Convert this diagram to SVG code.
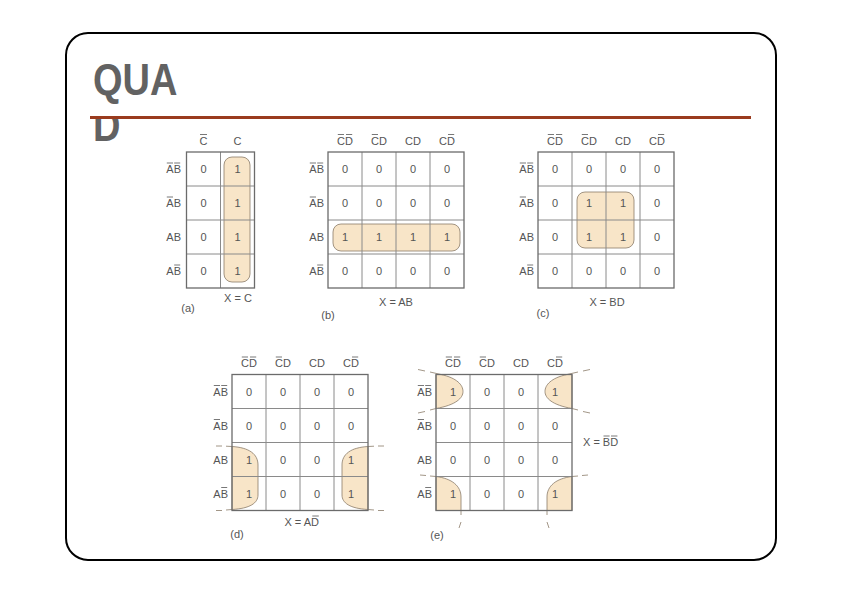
<svg xmlns="http://www.w3.org/2000/svg" width="842" height="595" viewBox="0 0 842 595">
<style>
.t{font-family:"Liberation Sans",Arial,sans-serif;font-size:11px;fill:#555}
.c{text-anchor:middle}
.e{text-anchor:end}
.ob{stroke:#555;stroke-width:0.8}
.g{fill:none;stroke:#8a8a8a;stroke-width:1}
.o{fill:none;stroke:#6b6b6b;stroke-width:1.3}
.hl{fill:#f8e5c8;stroke:#8a7b68;stroke-width:0.8}
.cv{fill:none;stroke:#8a7b68;stroke-width:0.8}
.ttl{font-family:"Liberation Sans",Arial,sans-serif;font-weight:bold;font-size:38px;fill:#626262}
</style>
<defs>
<clipPath id="dclip"><rect x="80" y="119" width="100" height="40"/></clipPath>
</defs>
<rect x="0" y="0" width="842" height="595" fill="#fff"/>
<rect x="66" y="33" width="710" height="527" rx="22" fill="#fff" stroke="#000" stroke-width="2"/>
<g id="title">
<text class="ttl" transform="translate(93,95) scale(1,1.18)">QUA</text>
<g clip-path="url(#dclip)"><text class="ttl" transform="translate(93,141) scale(1,1.18)">D</text></g>
<line x1="90" y1="117.5" x2="751" y2="117.5" stroke="#9a3b1e" stroke-width="3"/>
</g>

<!-- Map (a) -->
<g id="map-a">
<rect class="hl" x="224" y="157" width="26" height="125" rx="8"/>
<path class="g" d="M220.5,152V288M186.5,186H254.5M186.5,220H254.5M186.5,254H254.5"/>
<rect class="o" x="186.5" y="152" width="68" height="136"/>
<text class="t c" x="203.5" y="144.5">C</text><line class="ob" x1="200" y1="134.5" x2="207" y2="134.5"/>
<text class="t c" x="237.5" y="144.5">C</text>
<text class="t e" x="181" y="173">AB</text><line class="ob" x1="166.8" y1="163" x2="173" y2="163"/><line class="ob" x1="174.2" y1="163" x2="180.2" y2="163"/>
<text class="t e" x="181" y="207">AB</text><line class="ob" x1="166.8" y1="197" x2="173" y2="197"/>
<text class="t e" x="181" y="241">AB</text>
<text class="t e" x="181" y="275">AB</text><line class="ob" x1="174.2" y1="265" x2="180.2" y2="265"/>
<text class="t c" x="203.5" y="173">0</text><text class="t c" x="237.5" y="173">1</text>
<text class="t c" x="203.5" y="207">0</text><text class="t c" x="237.5" y="207">1</text>
<text class="t c" x="203.5" y="241">0</text><text class="t c" x="237.5" y="241">1</text>
<text class="t c" x="203.5" y="275">0</text><text class="t c" x="237.5" y="275">1</text>
<text class="t c" x="238" y="302">X = C</text>
<text class="t c" x="188" y="312">(a)</text>
</g>

<!-- Map (b) -->
<g id="map-b">
<rect class="hl" x="333" y="224" width="127" height="27" rx="8"/>
<path class="g" d="M362,152V288M396,152V288M430,152V288M328,186H464M328,220H464M328,254H464"/>
<rect class="o" x="328" y="152" width="136" height="136"/>
<text class="t c" x="345" y="144.5">CD</text><line class="ob" x1="337.8" y1="134.5" x2="344" y2="134.5"/><line class="ob" x1="346" y1="134.5" x2="352.2" y2="134.5"/>
<text class="t c" x="379" y="144.5">CD</text><line class="ob" x1="371.8" y1="134.5" x2="378" y2="134.5"/>
<text class="t c" x="413" y="144.5">CD</text>
<text class="t c" x="447" y="144.5">CD</text><line class="ob" x1="448" y1="134.5" x2="454.2" y2="134.5"/>
<text class="t e" x="324" y="173">AB</text><line class="ob" x1="309.8" y1="163" x2="316" y2="163"/><line class="ob" x1="317.2" y1="163" x2="323.2" y2="163"/>
<text class="t e" x="324" y="207">AB</text><line class="ob" x1="309.8" y1="197" x2="316" y2="197"/>
<text class="t e" x="324" y="241">AB</text>
<text class="t e" x="324" y="275">AB</text><line class="ob" x1="317.2" y1="265" x2="323.2" y2="265"/>
<text class="t c" x="345" y="173">0</text><text class="t c" x="379" y="173">0</text><text class="t c" x="413" y="173">0</text><text class="t c" x="447" y="173">0</text>
<text class="t c" x="345" y="207">0</text><text class="t c" x="379" y="207">0</text><text class="t c" x="413" y="207">0</text><text class="t c" x="447" y="207">0</text>
<text class="t c" x="345" y="241">1</text><text class="t c" x="379" y="241">1</text><text class="t c" x="413" y="241">1</text><text class="t c" x="447" y="241">1</text>
<text class="t c" x="345" y="275">0</text><text class="t c" x="379" y="275">0</text><text class="t c" x="413" y="275">0</text><text class="t c" x="447" y="275">0</text>
<text class="t c" x="396" y="306">X = AB</text>
<text class="t c" x="328" y="319">(b)</text>
</g>

<!-- Map (c) -->
<g id="map-c">
<rect class="hl" x="577" y="192" width="57" height="56" rx="8"/>
<path class="g" d="M572,152V288M606,152V288M640,152V288M538,186H674M538,220H674M538,254H674"/>
<rect class="o" x="538" y="152" width="136" height="136"/>
<text class="t c" x="555" y="144.5">CD</text><line class="ob" x1="547.8" y1="134.5" x2="554" y2="134.5"/><line class="ob" x1="556" y1="134.5" x2="562.2" y2="134.5"/>
<text class="t c" x="589" y="144.5">CD</text><line class="ob" x1="581.8" y1="134.5" x2="588" y2="134.5"/>
<text class="t c" x="623" y="144.5">CD</text>
<text class="t c" x="657" y="144.5">CD</text><line class="ob" x1="658" y1="134.5" x2="664.2" y2="134.5"/>
<text class="t e" x="534" y="173">AB</text><line class="ob" x1="519.8" y1="163" x2="526" y2="163"/><line class="ob" x1="527.2" y1="163" x2="533.2" y2="163"/>
<text class="t e" x="534" y="207">AB</text><line class="ob" x1="519.8" y1="197" x2="526" y2="197"/>
<text class="t e" x="534" y="241">AB</text>
<text class="t e" x="534" y="275">AB</text><line class="ob" x1="527.2" y1="265" x2="533.2" y2="265"/>
<text class="t c" x="555" y="173">0</text><text class="t c" x="589" y="173">0</text><text class="t c" x="623" y="173">0</text><text class="t c" x="657" y="173">0</text>
<text class="t c" x="555" y="207">0</text><text class="t c" x="589" y="207">1</text><text class="t c" x="623" y="207">1</text><text class="t c" x="657" y="207">0</text>
<text class="t c" x="555" y="241">0</text><text class="t c" x="589" y="241">1</text><text class="t c" x="623" y="241">1</text><text class="t c" x="657" y="241">0</text>
<text class="t c" x="555" y="275">0</text><text class="t c" x="589" y="275">0</text><text class="t c" x="623" y="275">0</text><text class="t c" x="657" y="275">0</text>
<text class="t c" x="607" y="306">X = BD</text>
<text class="t c" x="543" y="317">(c)</text>
</g>

<!-- Map (d) -->
<g id="map-d">
<path class="hl" d="M232,446.5C249,447.5 258,454 258,465L258,495C258,503 250,508.5 232,509.5Z"/>
<path class="hl" d="M368,446.5C351,447.5 342,454 342,465L342,495C342,503 350,508.5 368,509.5Z"/>
<path class="cv" d="M226,446.2L232,446.5M226,510L232,509.5M368,446.5L374,446.2M368,509.5L374,510M216,446H222M216,510.5H222M378,446H384M378,510.5H384"/>
<path class="g" d="M266,374.5V510.5M300,374.5V510.5M334,374.5V510.5M232,408.5H368M232,442.5H368M232,476.5H368"/>
<rect class="o" x="232" y="374.5" width="136" height="136"/>
<text class="t c" x="249" y="367">CD</text><line class="ob" x1="241.8" y1="357" x2="248" y2="357"/><line class="ob" x1="250" y1="357" x2="256.2" y2="357"/>
<text class="t c" x="283" y="367">CD</text><line class="ob" x1="275.8" y1="357" x2="282" y2="357"/>
<text class="t c" x="317" y="367">CD</text>
<text class="t c" x="351" y="367">CD</text><line class="ob" x1="352" y1="357" x2="358.2" y2="357"/>
<text class="t e" x="228" y="395.5">AB</text><line class="ob" x1="213.8" y1="385.5" x2="220" y2="385.5"/><line class="ob" x1="221.2" y1="385.5" x2="227.2" y2="385.5"/>
<text class="t e" x="228" y="429.5">AB</text><line class="ob" x1="213.8" y1="419.5" x2="220" y2="419.5"/>
<text class="t e" x="228" y="463.5">AB</text>
<text class="t e" x="228" y="497.5">AB</text><line class="ob" x1="221.2" y1="487.5" x2="227.2" y2="487.5"/>
<text class="t c" x="249" y="395.5">0</text><text class="t c" x="283" y="395.5">0</text><text class="t c" x="317" y="395.5">0</text><text class="t c" x="351" y="395.5">0</text>
<text class="t c" x="249" y="429.5">0</text><text class="t c" x="283" y="429.5">0</text><text class="t c" x="317" y="429.5">0</text><text class="t c" x="351" y="429.5">0</text>
<text class="t c" x="249" y="463.5">1</text><text class="t c" x="283" y="463.5">0</text><text class="t c" x="317" y="463.5">0</text><text class="t c" x="351" y="463.5">1</text>
<text class="t c" x="249" y="497.5">1</text><text class="t c" x="283" y="497.5">0</text><text class="t c" x="317" y="497.5">0</text><text class="t c" x="351" y="497.5">1</text>
<text class="t" x="284.4" y="526">X = AD</text><line class="ob" x1="312.3" y1="516" x2="318.8" y2="516"/>
<text class="t c" x="237" y="538">(d)</text>
</g>

<!-- Map (e) -->
<g id="map-e">
<path class="hl" d="M436,374.5L441,374.5C457,378 463,385 463,391.5C463,398 456,405 436,408.5Z"/>
<path class="hl" d="M572,374.5L567,374.5C551,378 545,385 545,391.5C545,398 552,405 572,408.5Z"/>
<path class="hl" d="M436,476.5C452,478.5 461,486 461,497L461,510.5L436,510.5Z"/>
<path class="hl" d="M572,476.5C556,478.5 547,486 547,497L547,510.5L572,510.5Z"/>
<path class="cv" d="M441,374.5L430,372M436,408.5L430,410M418,369.5L425,371M418,413L425,411.5M567,374.5L578,372M572,408.5L578,410M590,369.5L583,371M590,413L583,411.5M436,476.5L430,476M420,475L426,475.5M461,510.5V515M461,522L459,528M572,476.5L578,476M588,475L582,475.5M547,510.5V515M547,522L549,528"/>
<path class="g" d="M470,374.5V510.5M504,374.5V510.5M538,374.5V510.5M436,408.5H572M436,442.5H572M436,476.5H572"/>
<rect class="o" x="436" y="374.5" width="136" height="136"/>
<text class="t c" x="453" y="367">CD</text><line class="ob" x1="445.8" y1="357" x2="452" y2="357"/><line class="ob" x1="454" y1="357" x2="460.2" y2="357"/>
<text class="t c" x="487" y="367">CD</text><line class="ob" x1="479.8" y1="357" x2="486" y2="357"/>
<text class="t c" x="521" y="367">CD</text>
<text class="t c" x="555" y="367">CD</text><line class="ob" x1="556" y1="357" x2="562.2" y2="357"/>
<text class="t e" x="432" y="395.5">AB</text><line class="ob" x1="417.8" y1="385.5" x2="424" y2="385.5"/><line class="ob" x1="425.2" y1="385.5" x2="431.2" y2="385.5"/>
<text class="t e" x="432" y="429.5">AB</text><line class="ob" x1="417.8" y1="419.5" x2="424" y2="419.5"/>
<text class="t e" x="432" y="463.5">AB</text>
<text class="t e" x="432" y="497.5">AB</text><line class="ob" x1="425.2" y1="487.5" x2="431.2" y2="487.5"/>
<text class="t c" x="453" y="395.5">1</text><text class="t c" x="487" y="395.5">0</text><text class="t c" x="521" y="395.5">0</text><text class="t c" x="555" y="395.5">1</text>
<text class="t c" x="453" y="429.5">0</text><text class="t c" x="487" y="429.5">0</text><text class="t c" x="521" y="429.5">0</text><text class="t c" x="555" y="429.5">0</text>
<text class="t c" x="453" y="463.5">0</text><text class="t c" x="487" y="463.5">0</text><text class="t c" x="521" y="463.5">0</text><text class="t c" x="555" y="463.5">0</text>
<text class="t c" x="453" y="497.5">1</text><text class="t c" x="487" y="497.5">0</text><text class="t c" x="521" y="497.5">0</text><text class="t c" x="555" y="497.5">1</text>
<text class="t" x="583" y="446">X = BD</text><line class="ob" x1="603.5" y1="436" x2="609.6" y2="436"/><line class="ob" x1="611" y1="436" x2="617.4" y2="436"/>
<text class="t c" x="437" y="539">(e)</text>
</g>
</svg>
